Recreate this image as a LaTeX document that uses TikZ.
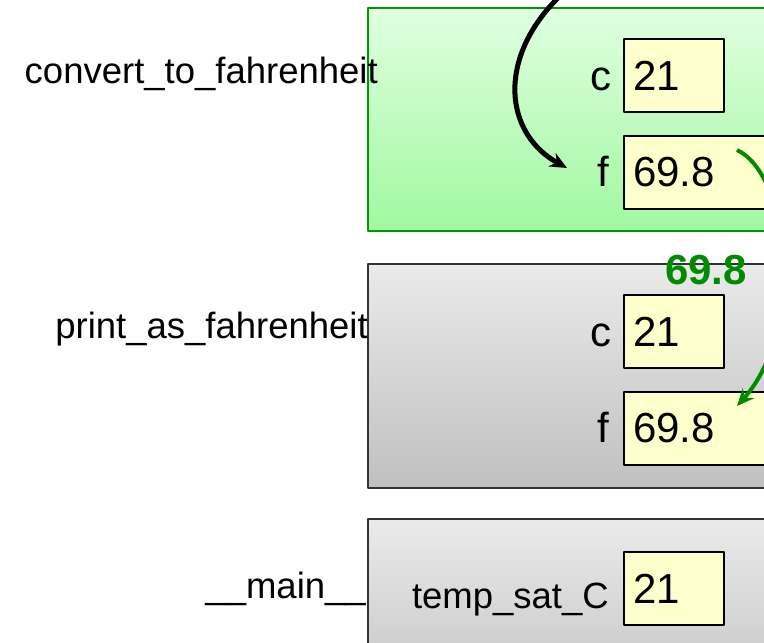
\documentclass[tikz,border=0pt]{standalone}
\usepackage{fontspec}
\setmainfont{Liberation Sans}
\usetikzlibrary{positioning,arrows.meta}
\definecolor{framegreen}{RGB}{0,150,0}
\definecolor{retgreen}{RGB}{0,140,0}
\definecolor{valyellow}{RGB}{255,255,204}
\tikzset{
  namefont/.style={font=\fontsize{36.5}{44}\selectfont},
  valfont/.style={font=\fontsize{42}{50}\selectfont},
  frame/.style={draw,line width=2pt,minimum width=433pt,anchor=north west,inner sep=0pt},
  greenframe/.style={frame,draw=framegreen,top color={rgb,255:red,224;green,255;blue,224},bottom color={rgb,255:red,160;green,248;blue,160}},
  grayframe/.style={frame,draw=black!80,top color={rgb,255:red,234;green,234;blue,234},bottom color={rgb,255:red,192;green,192;blue,192}},
  valbox/.style={draw,line width=2pt,fill=valyellow,valfont,anchor=north west,minimum height=73pt,inner xsep=9pt,text width=82pt,align=left},
  widebox/.style={valbox,text width=150pt},
  varname/.style={valfont,anchor=base east,inner sep=0pt},
  framename/.style={namefont,anchor=base east,inner sep=0pt}
}
\begin{document}
\begin{tikzpicture}[x=1pt,y=-1pt,>={Stealth[length=17pt,width=15pt]},line join=round]
\useasboundingbox (0,0) rectangle (764,643);
\clip (0,0) rectangle (764,643);
% frames
\node[greenframe,minimum height=223pt] (convframe) at (367,7) {};
\node[grayframe,minimum height=224pt] (printframe) at (367,263) {};
\node[grayframe,minimum height=200pt] (mainframe) at (367,518) {};
% variables
\node[valbox] (convc) at (623,38) {21};
\node[widebox] (convf) at (623,135) {69.8};
\node[valbox] (printc) at (623,294) {21};
\node[widebox] (printf) at (623,391) {69.8};
\node[valbox] (mainc) at (623,551) {21};
\node[varname] (convclab) at ([xshift=-11pt]convc.base west) {c};
\node[varname] (convflab) at ([xshift=-14pt]convf.base west) {f};
\node[varname] (printclab) at ([xshift=-11pt]printc.base west) {c};
\node[varname] (printflab) at ([xshift=-14pt]printf.base west) {f};
\node[framename] (maincvar) at ([xshift=-14pt,yshift=-5pt]mainc.base west) {temp\_sat\_C};
% frame names
\node[framename] (convname) at ([xshift=11pt,yshift=7pt]convframe.west |- convc.base) {convert\_to\_fahrenheit};
\node[framename] (printname) at ([xshift=1pt,yshift=8pt]printframe.west |- printc.base) {print\_as\_fahrenheit};
\node[framename] (mainname) at ([xshift=-1pt,yshift=5pt]mainframe.west |- mainc.base) {\_\_main\_\_};
% call and return
\coordinate (callfrom) at (585,-25);
\coordinate (callto) at (567,168);
\draw[->,line width=5pt] (callfrom) .. controls (495,40) and (498,130) .. (callto);
\coordinate (retfrom) at (737,150);
\coordinate (retto) at (737,406);
\draw[->,line width=4pt,color=retgreen] (retfrom) .. controls (790,175) and (805,330) .. (retto);
\node[font=\fontsize{42}{50}\selectfont\bfseries,text=retgreen,inner sep=0pt] (retval) at (706,270) {69.8};
\end{tikzpicture}
\end{document}
